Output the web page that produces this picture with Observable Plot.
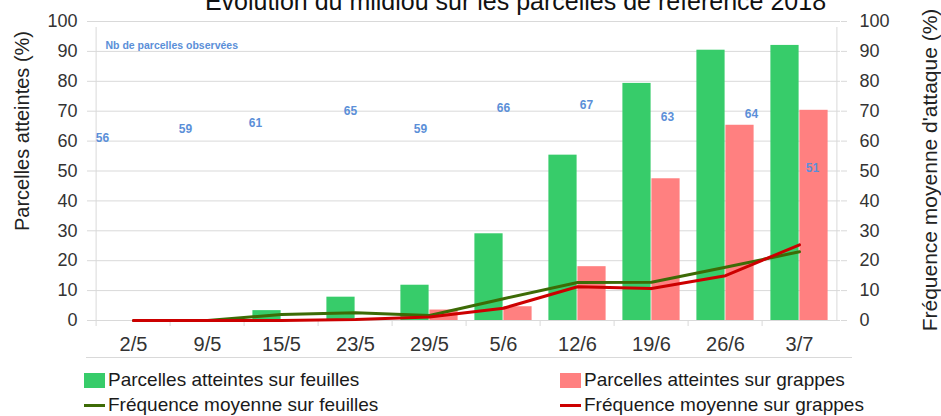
<!DOCTYPE html>
<html>
<head>
<meta charset="utf-8">
<script src="https://cdn.jsdelivr.net/npm/d3@7"></script>
<script src="https://cdn.jsdelivr.net/npm/@observablehq/plot@0.6"></script>
<style>
  html, body { margin: 0; padding: 0; background: #fff; }
  body { width: 941px; height: 416px; overflow: hidden; position: relative; font-family: "Liberation Sans", Arial, sans-serif; }
  #chart { position: absolute; left: 0; top: 0; }
  #title { position: absolute; left: 45px; width: 941px; top: -11px; text-align: center; font-size: 25px; line-height: 24px; color: #111; white-space: nowrap; z-index: 2; }
  .ytitle { position: absolute; width: 400px; height: 24px; line-height: 24px; text-align: center; color: #222; white-space: nowrap; transform: rotate(-90deg); z-index: 2; }
  #sep { position: absolute; left: 86px; width: 766px; top: 357px; height: 0; border-top: 1px solid #d9d9d9; }
  .leg { position: absolute; font-size: 19px; line-height: 22px; color: #1a1a1a; white-space: nowrap; display: flex; align-items: center; }
  .sw { display: inline-block; width: 21px; height: 15px; margin-right: 3px; }
  .ln { display: inline-block; width: 21px; height: 3px; margin-right: 3px; }
</style>
</head>
<body>
<div id="chart"></div>
<div id="title"></div>
<div id="ytl" class="ytitle"></div>
<div id="ytr" class="ytitle"></div>
<div id="sep"></div>
<div id="legend"></div>
<script>
// ---- data ----
const dates = ["2/5", "9/5", "15/5", "23/5", "29/5", "5/6", "12/6", "19/6", "26/6", "3/7"];
const parcellesFeuilles = [0, 0, 3.3, 7.8, 11.8, 29, 55.3, 79.3, 90.4, 92];
const parcellesGrappes = [0, 0, 0, 0.5, 3.5, 4.6, 18, 47.4, 65.3, 70.3];
const frequenceFeuilles = [0, 0, 2, 2.6, 1.7, 7.3, 12.7, 12.8, 17.8, 23];
const frequenceGrappes = [0, 0, 0, 0.3, 1.2, 4.1, 11.3, 10.7, 15, 25.3];
const nbParcelles = [56, 59, 61, 65, 59, 66, 67, 63, 64, 51];
const nbParcellesY = [61, 64, 66, 70, 64, 71, 72, 68, 69, 51];
const yTicks = [0, 10, 20, 30, 40, 50, 60, 70, 80, 90, 100];
const seriesNames = ["Parcelles atteintes sur feuilles", "Parcelles atteintes sur grappes",
                     "Fréquence moyenne sur feuilles", "Fréquence moyenne sur grappes"];
const chartTitle = "Evolution du mildiou sur les parcelles de référence 2018";
const leftTitle = "Parcelles atteintes (%)";
const rightTitle = "Fréquence moyenne d'attaque (%)";
const noteTitle = "Nb de parcelles observées";

// ---- layout / style constants ----
const W = 941, H = 362;
const mL = 92, mR = 101, mT = 21, mB = 42;
const band = (W - mL - mR) / dates.length;
const half = band / 2;
const outer = half - 29;
const labelDx = [-31, -22, -26, -5, -9, 0, 9, 16, 26, 13];
const cGreen = "#37cc6a", cPink = "#ff8080", cDarkGreen = "#3d6b06", cRed = "#cc0000", cBlue = "#5b8fd8";
const cGrid = "#d9d9d9", cText = "#333";

const rows = dates.map((d, i) => ({
  date: d, pf: parcellesFeuilles[i], pg: parcellesGrappes[i],
  ff: frequenceFeuilles[i], fg: frequenceGrappes[i],
  nb: nbParcelles[i], nbY: nbParcellesY[i]
}));

const marks = [
  Plot.gridY(yTicks, {stroke: cGrid, strokeOpacity: 1}),
  Plot.ruleX([dates[0]], {x: d => d, y1: 0, y2: 100, dx: -half, insetBottom: -6, stroke: cGrid}),
  Plot.ruleX([dates[dates.length - 1]], {x: d => d, y1: 0, y2: 100, dx: half, insetBottom: -6, stroke: cGrid}),
  Plot.axisX({tickSize: 6, text: null, dx: -half, stroke: cGrid, strokeOpacity: 1, label: null}),
  Plot.axisX({tickSize: 0, tickPadding: 16, fontSize: 20, fill: cText, label: null}),
  Plot.axisY(yTicks, {anchor: "left", tickSize: 5, text: null, stroke: cGrid, strokeOpacity: 1, label: null}),
  Plot.axisY(yTicks, {anchor: "left", tickSize: 0, tickPadding: 15, fontSize: 18, fill: cText, label: null}),
  Plot.axisY(yTicks, {anchor: "right", tickSize: 6, text: null, stroke: cGrid, strokeOpacity: 1, label: null}),
  Plot.axisY(yTicks, {anchor: "right", tickSize: 0, tickPadding: 19, fontSize: 18, fill: cText, label: null}),
  Plot.barY(rows, {x: "date", y: "pf", fill: cGreen, insetLeft: outer, insetRight: half}),
  Plot.barY(rows, {x: "date", y: "pg", fill: cPink, insetLeft: half, insetRight: outer}),
  Plot.line(rows, {x: "date", y: "ff", stroke: cDarkGreen, strokeWidth: 3}),
  Plot.line(rows, {x: "date", y: "fg", stroke: cRed, strokeWidth: 3}),
  ...rows.map((r, i) => Plot.text([r], {x: "date", y: "nbY", text: d => String(d.nb), dx: labelDx[i],
      fill: cBlue, fontSize: 12, fontWeight: "bold"})),
  Plot.text([noteTitle], {frameAnchor: "top-left", dx: 13, dy: 20, textAnchor: "start",
      fill: cBlue, fontSize: 10.5, fontWeight: "bold"})
];

const chart = Plot.plot({
  width: W, height: H,
  marginLeft: mL, marginRight: mR, marginTop: mT, marginBottom: mB,
  style: {fontFamily: "'Liberation Sans', Arial, sans-serif", background: "transparent", overflow: "visible"},
  x: {type: "band", domain: dates, padding: 0},
  y: {domain: [0, 100]},
  marks
});
document.getElementById("chart").appendChild(chart);

// ---- titles ----
document.getElementById("title").textContent = chartTitle;
function placeYTitle(id, text, cx, cy, size) {
  const el = document.getElementById(id);
  el.textContent = text;
  el.style.fontSize = size + "px";
  el.style.left = (cx - 200) + "px";
  el.style.top = (cy - 12) + "px";
}
placeYTitle("ytl", leftTitle, 22, 131, 20);
placeYTitle("ytr", rightTitle, 930, 170, 21);

// ---- legend (HTML) ----
const legend = document.getElementById("legend");
const legItems = [
  {name: seriesNames[0], kind: "sw", color: cGreen, left: 84, top: 369},
  {name: seriesNames[1], kind: "sw", color: cPink, left: 560, top: 369},
  {name: seriesNames[2], kind: "ln", color: cDarkGreen, left: 84, top: 394},
  {name: seriesNames[3], kind: "ln", color: cRed, left: 560, top: 394}
];
for (const it of legItems) {
  const div = document.createElement("div");
  div.className = "leg";
  div.style.left = it.left + "px";
  div.style.top = it.top + "px";
  const sw = document.createElement("span");
  sw.className = it.kind;
  sw.style.background = it.color;
  div.appendChild(sw);
  div.appendChild(document.createTextNode(it.name));
  legend.appendChild(div);
}
</script>
</body>
</html>
